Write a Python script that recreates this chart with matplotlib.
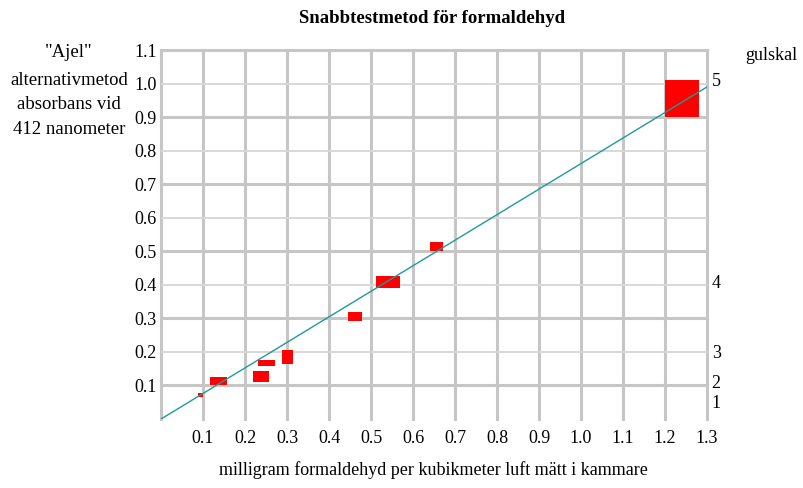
import matplotlib.pyplot as plt
from matplotlib.patches import Rectangle

# boxes: range in x (mg/m3) and y (absorbans) for each measurement
x_lo = [0.087, 0.117, 0.220, 0.232, 0.287, 0.446, 0.512, 0.640, 1.200]
x_hi = [0.099, 0.158, 0.256, 0.271, 0.313, 0.478, 0.569, 0.672, 1.282]
y_lo = [0.066, 0.101, 0.111, 0.158, 0.163, 0.292, 0.390, 0.502, 0.899]
y_hi = [0.078, 0.124, 0.144, 0.176, 0.206, 0.318, 0.427, 0.528, 1.012]

# fitted line
fit_x = [0.0, 1.3]
fit_y = [0.0, 0.99]

x_ticks = [0.1, 0.2, 0.3, 0.4, 0.5, 0.6, 0.7, 0.8, 0.9, 1.0, 1.1, 1.2, 1.3]
y_ticks = [0.1, 0.2, 0.3, 0.4, 0.5, 0.6, 0.7, 0.8, 0.9, 1.0, 1.1]

# gulskal (yellow scale) positions on the right
gul_labels = ['1', '2', '3', '4', '5']
gul_pos = [0.045, 0.105, 0.195, 0.405, 1.005]

plt.rcParams['font.family'] = ['Liberation Serif', 'DejaVu Serif']

fig = plt.figure(figsize=(8.04, 4.88), dpi=100)
ax = fig.add_axes([0.2003, 0.1414, 0.6791, 0.7561])
ax.set_xlim(0, 1.3)
ax.set_ylim(0, 1.1)

# grid: vertical all thick, horizontal thick on odd tenths
for xv in [0.0] + x_ticks:
    ax.axvline(xv, color='#c6c6c6', lw=2.2, zorder=1, clip_on=False)
for i, yv in enumerate(y_ticks):
    if i % 2 == 0:
        ax.axhline(yv, color='#c6c6c6', lw=2.2, zorder=1, clip_on=False)
    else:
        ax.axhline(yv, color='#d8d8d8', lw=1.4, zorder=1)

for s in ax.spines.values():
    s.set_visible(False)

for a, b, c, d in zip(x_lo, x_hi, y_lo, y_hi):
    ax.add_patch(Rectangle((a, c), b - a, d - c, color='#ff0000', lw=0, zorder=2))

ax.plot(fit_x, fit_y, color='#1f9a9a', lw=1.0, zorder=3)

ax.set_xticks(x_ticks)
ax.set_xticklabels(['%.1f' % v for v in x_ticks])
ax.set_yticks(y_ticks)
ax.set_yticklabels(['%.1f' % v for v in y_ticks])
ax.tick_params(length=0, labelsize=13)
ax.tick_params(axis='x', pad=8)
ax.tick_params(axis='y', pad=3)

for lab, p in zip(gul_labels, gul_pos):
    ax.text(1.311, p, lab, fontsize=13, va='center', ha='left')

fig.text(0.537, 0.962, 'Snabbtestmetod för formaldehyd', ha='center', va='center',
         fontsize=13.5, fontweight='bold')
fig.text(0.539, 0.037, 'milligram formaldehyd per kubikmeter luft mätt i kammare',
         ha='center', va='center', fontsize=13)
fig.text(0.959, 0.887, 'gulskal', ha='center', va='center', fontsize=13)

left_lines = ['"Ajel"', 'alternativmetod', 'absorbans vid', '412 nanometer']
left_y = [0.893, 0.836, 0.785, 0.734]
for t, yy in zip(left_lines, left_y):
    fig.text(0.086, yy, t, ha='center', va='center', fontsize=13.5)

fig.savefig('out.png', dpi=100)
